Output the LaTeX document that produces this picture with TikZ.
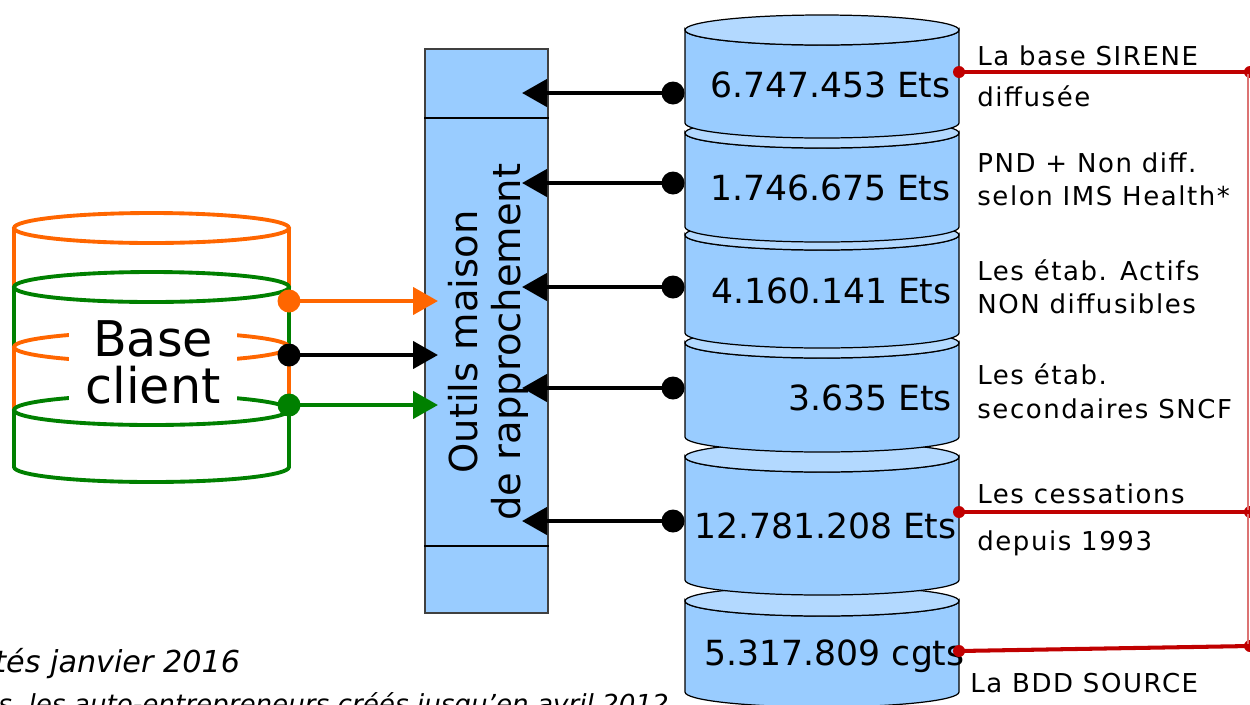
\documentclass[tikz,border=0pt]{standalone}
\usepackage{fontspec}
\setmainfont{DejaVu Sans}
\usepackage{tikz}
\usetikzlibrary{arrows.meta,positioning,calc}

\definecolor{dbblue}{HTML}{99CCFF}
\definecolor{dbtop}{HTML}{B3D9FF}
\definecolor{srcred}{HTML}{C00000}
\definecolor{cliorange}{HTML}{FF6600}
\definecolor{cligreen}{HTML}{008000}

% one barrel of the stack: top y, bottom y
\newcommand{\dbcyl}[2]{%
  \filldraw[cylbody] (685,#1) -- (685,#2)
    arc[start angle=180, end angle=0, x radius=137, y radius=15]
    -- (959,#1)
    arc[start angle=0, end angle=180, x radius=137, y radius=15] -- cycle;
  \filldraw[cyltop] (822,#1) ellipse [x radius=137, y radius=15];
}

\begin{document}
\begin{tikzpicture}[x=0.02cm, y=-0.02cm]
        \tikzset{
            cylbody/.style={fill=dbblue, draw=black, line width=0.7pt},
            cyltop/.style={fill=dbtop, draw=black, line width=0.7pt},
            count/.style={anchor=base east, inner sep=0pt, font=\fontsize{19.7}{23}\selectfont},
            note/.style={anchor=base west, inner sep=0pt, font=\fontsize{14.8}{18}\selectfont\addfontfeature{LetterSpace=6}},
            footnote/.style={anchor=base west, inner sep=0pt, font=\itshape\fontsize{15}{18}\selectfont},
            bigdot/.style={circle, fill, inner sep=0pt, minimum size=0.46cm},
            reddot/.style={circle, fill=srcred, inner sep=0pt, minimum size=0.24cm},
            link/.style={-{Triangle[length=0.5cm, width=0.54cm]}, line width=2.5pt},
            redline/.style={draw=srcred, line width=2.3pt},
            ring/.style={line width=2.2pt},
        }
        \useasboundingbox (0,0) rectangle (1250,704);

        % SIRENE stack, drawn from the bottom up
        \dbcyl{601}{692}
        \dbcyl{457}{580}
        \dbcyl{343}{437}
        \dbcyl{235}{333}
        \dbcyl{133}{227}
        \dbcyl{30}{123}

        % Counts
        \node [count] (n1) at (951,97) {6.747.453 Ets};
        \node [count] (n2) at (951,200) {1.746.675 Ets};
        \node [count] (n3) at (952,303) {4.160.141 Ets};
        \node [count] (n4) at (952,410) {3.635 Ets};
        \node [count] (n5) at (957,538) {12.781.208 Ets};
        \node [count] (n6) at (965,665) {5.317.809 cgts};

        % Matching tool
        \node [draw=black!75, fill=dbblue, line width=0.7pt, minimum width=2.46cm, minimum height=11.28cm, inner sep=0pt] (tool) at (486.5,331) {};
        \coordinate (cut1) at (0,118);
        \coordinate (cut2) at (0,546);
        \draw [line width=0.7pt] (tool.west |- cut1) -- (tool.east |- cut1);
        \draw [line width=0.7pt] (tool.west |- cut2) -- (tool.east |- cut2);
        \node [rotate=90, align=center, font=\fontsize{21.9}{24.5}\selectfont] (toolname) at (488,342) {Outils maison\\de rapprochement};

        % Base client
        \draw [ring, cliorange] (14,228) -- (14,287) (289,228) -- (289,287);
        \draw [ring, cligreen] (14,287) -- (14,347) (289,287) -- (289,347);
        \draw [ring, cliorange] (14,347) -- (14,410) (289,347) -- (289,410);
        \draw [ring, cligreen] (289,410) -- (289,467)
            arc[start angle=0, end angle=180, x radius=137.5, y radius=15] -- (14,410);
        \draw [ring, cliorange] (151.5,228) ellipse [x radius=137.5, y radius=15];
        \draw [ring, cligreen] (151.5,287) ellipse [x radius=137.5, y radius=15];
        \draw [ring, cliorange] (151.5,347) ellipse [x radius=137.5, y radius=15];
        \draw [ring, cligreen] (151.5,410) ellipse [x radius=137.5, y radius=15];
        \node [fill=white, align=center, inner xsep=0.32cm, inner ysep=0.2cm, font=\fontsize{28}{26.7}\selectfont] (base) at (153,362) {Base\\client};

        % Connections into the tool
        \node [bigdot, cliorange] (c1) at (289,301) {};
        \node [bigdot] (c2) at (289,355) {};
        \node [bigdot, cligreen] (c3) at (289,405) {};
        \coordinate (f1) at (438,301);
        \coordinate (f2) at (438,355);
        \coordinate (f3) at (438,405);
        \draw [link, cliorange] (c1.center) -- (f1);
        \draw [link] (c2.center) -- (f2);
        \draw [link, cligreen] (c3.center) -- (f3);

        \node [bigdot] (s1) at (673,93) {};
        \node [bigdot] (s2) at (673,183) {};
        \node [bigdot] (s3) at (673,287) {};
        \node [bigdot] (s4) at (673,388) {};
        \node [bigdot] (s5) at (673,521) {};
        \coordinate (e1) at (522,93);
        \coordinate (e2) at (522,183);
        \coordinate (e3) at (522,287);
        \coordinate (e4) at (522,388);
        \coordinate (e5) at (522,521);
        \draw [link] (s1.center) -- (e1);
        \draw [link] (s2.center) -- (e2);
        \draw [link] (s3.center) -- (e3);
        \draw [link] (s4.center) -- (e4);
        \draw [link] (s5.center) -- (e5);

        % Red brackets
        \node [reddot] (a1) at (959,72) {};
        \node [reddot] (a2) at (959,512) {};
        \node [reddot] (a3) at (959,651) {};
        \node [reddot] (b1) at (1250,72) {};
        \node [reddot] (b2) at (1250,512) {};
        \node [reddot] (b3) at (1250,646) {};
        \draw [draw=srcred!55, line width=0.6pt] ([xshift=-0.04cm]b1.center) -- ([xshift=-0.04cm]b3.center);
        \draw [redline] (a1.center) -- (b1.center);
        \draw [redline] (a2.center) -- (b2.center);
        \draw [redline] (a3.center) -- (b3.center);

        % Labels
        \node [note] (t1a) at (977,65) {La base SIRENE};
        \node [note] (t1b) at (977,106) {diffusée};
        \node [note] (t2a) at (977,172) {PND + Non diff.};
        \node [note] (t2b) at (977,205) {selon IMS Health*};
        \node [note] (t3a) at (977,280) {Les étab. Actifs};
        \node [note] (t3b) at (977,313) {NON diffusibles};
        \node [note] (t4a) at (977,384) {Les étab.};
        \node [note] (t4b) at (977,418) {secondaires SNCF};
        \node [note] (t5a) at (977,503) {Les cessations};
        \node [note] (t5b) at (977,550) {depuis 1993};
        \node [note] (t6) at (970,692) {La BDD SOURCE};

        % Footnotes
        \node [footnote, font=\itshape\fontsize{17.2}{18}\selectfont] (foot1) at (-6,672) {tés janvier 2016};
        \node [footnote, font=\itshape\fontsize{14.9}{18}\selectfont] (foot2) at (-2,713) {s, les auto-entrepreneurs créés jusqu’en avril 2012};
    \end{tikzpicture}
\end{document}
